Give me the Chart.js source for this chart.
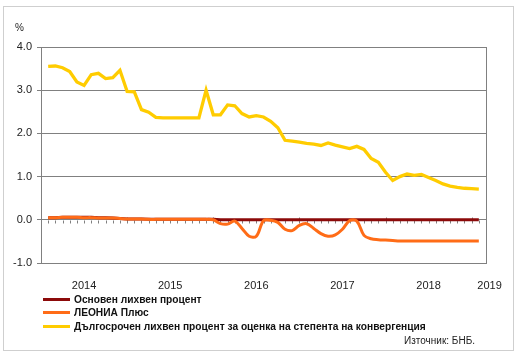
<!DOCTYPE html>
<html><head><meta charset="utf-8">
<script src="https://cdn.jsdelivr.net/npm/chart.js@4"></script>
<style>
body{margin:0;background:#fff;width:519px;height:363px;overflow:hidden;position:relative;font-family:"Liberation Sans",Arial,sans-serif;}
#frame{position:absolute;left:3px;top:6px;width:511px;height:345px;border:1px solid #cfcfcf;box-sizing:border-box;}
canvas{position:absolute;left:0;top:0;}
.pct{position:absolute;left:15px;top:22px;font-size:10px;color:#222}
.leg{position:absolute;left:43px;font-size:10.2px;line-height:12px;font-weight:bold;color:#111;white-space:nowrap}
.leg i{display:inline-block;width:27px;height:3px;vertical-align:middle;margin-right:4px;position:relative;top:-1px}
.src{position:absolute;right:44px;top:335px;font-size:10px;line-height:12px;color:#222}
</style></head>
<body>
<div id="frame"></div>
<canvas id="c" width="519" height="363"></canvas>
<div class="pct">%</div>
<div class="leg" style="top:294px"><i style="background:#8c0a0a"></i>Основен лихвен процент</div>
<div class="leg" style="top:307px"><i style="background:#ff6c17"></i>ЛЕОНИА Плюс</div>
<div class="leg" style="top:321px"><i style="background:#ffcc00"></i>Дългосрочен лихвен процент за оценка на степента на конвергенция</div>
<div class="src">Източник: БНБ.</div>
<script>
// months from Jan 2014 to Jan 2019 (61 points)
const months = [];
for (let yr = 2014; yr <= 2019; yr++) for (let m = 1; m <= 12; m++) if (months.length < 61) months.push(yr + '-' + String(m).padStart(2,'0'));

const baseRate = [0.05,0.05,0.06,0.06,0.06,0.06,0.06,0.05,0.05,0.04,0.03,
  0.02,0.02,0.02,0.01,0.01,0.01,0.01,0.01,0.01,0.01,0.01,0.01,
  0.01,0,0,0,0,0,0,0,0,0,0,0,0,0,0,0,0,0,0,0,0,0,0,0,0,0,
  0,0,0,0,0,0,0,0,0,0,0,0];
const leoniaPlus = [0.05,0.05,0.06,0.06,0.06,0.05,0.05,0.04,0.04,0.04,0.03,
  0.02,0.02,0.02,0.01,0.01,0.01,0.01,0.01,0.01,0.01,0.01,0.01,
  0.00,-0.09,-0.10,-0.03,-0.20,-0.38,-0.38,-0.02,-0.01,-0.06,-0.22,-0.25,-0.13,-0.09,-0.20,-0.32,-0.38,-0.35,-0.22,-0.02,-0.03,-0.36,-0.44,-0.46,-0.47,-0.48,
  -0.49,-0.49,-0.49,-0.49,-0.49,-0.49,-0.49,-0.49,-0.49,-0.49,-0.49,-0.49];
const longTermRate = [3.55,3.56,3.52,3.43,3.19,3.11,3.36,3.39,3.27,3.29,3.46,
  2.97,2.96,2.55,2.49,2.37,2.36,2.36,2.36,2.36,2.36,2.36,3.00,
  2.43,2.43,2.66,2.64,2.46,2.38,2.41,2.38,2.28,2.13,1.84,1.82,1.80,1.77,1.75,1.72,1.78,1.73,1.69,1.65,1.70,1.63,1.42,1.33,1.10,0.91,
  1.00,1.06,1.03,1.05,0.98,0.91,0.83,0.78,0.75,0.73,0.72,0.71];

const yearLabels = ['2014','2015','2016','2017','2018','2019'];
const yearLabelAt = [5, 17, 29, 41, 53, 61.5];
const yTicks = [-1, 0, 1, 2, 3, 4];

const pts = arr => arr.map((v, i) => ({x: i, y: v}));

const frame = {
  id: 'frame',
  beforeDatasetsDraw(chart) {
    const {ctx, chartArea: a, scales: {x, y}} = chart;
    ctx.save();
    ctx.strokeStyle = '#808080'; ctx.lineWidth = 1;
    ctx.strokeRect(Math.round(a.left)+0.5, Math.round(a.top)+0.5, Math.round(a.right-a.left), Math.round(a.bottom-a.top));
    const y0 = Math.round(y.getPixelForValue(0)) + 0.5;
    months.forEach((m, i) => {
      const px = Math.round(x.getPixelForValue(i)) + 0.5;
      const major = i % 12 === 11;
      ctx.beginPath();
      ctx.moveTo(px, major ? y0 - 3 : y0);
      ctx.lineTo(px, y0 + 3);
      ctx.stroke();
    });
    ctx.restore();
  }
};

new Chart(document.getElementById('c'), {
  type: 'line',
  data: {
    datasets: [
      {label: 'Основен лихвен процент', data: pts(baseRate), borderColor: '#8c0a0a', borderWidth: 3, pointRadius: 0, tension: 0, order: 2},
      {label: 'ЛЕОНИА Плюс', data: pts(leoniaPlus), borderColor: '#ff6c17', borderWidth: 3, pointRadius: 0, tension: 0.35, order: 1},
      {label: 'Дългосрочен лихвен процент за оценка на степента на конвергенция', data: pts(longTermRate), borderColor: '#ffcc00', borderWidth: 3.3, pointRadius: 0, tension: 0, order: 0}
    ]
  },
  options: {
    responsive: false,
    animation: false,
    layout: {padding: {left: 0, top: 47, right: 33, bottom: 70}},
    plugins: {legend: {display: false}, tooltip: {enabled: false}},
    scales: {
      x: {
        type: 'linear', min: -1, max: 61,
        afterFit(s) { s.height = 30; },
        afterBuildTicks(s) { s.ticks = yearLabelAt.map(v => ({value: v})); },
        grid: {display: false},
        border: {display: false},
        ticks: {autoSkip: false, maxRotation: 0, padding: 8, color: '#222', font: {family: '"Liberation Sans", Arial', size: 11},
          callback: (v, i) => yearLabels[i]}
      },
      y: {
        min: -1, max: 4,
        afterFit(s) { s.width = 41; },
        afterBuildTicks(s) { s.ticks = yTicks.map(v => ({value: v})); },
        grid: {color: '#808080', lineWidth: 1, tickLength: 4, drawTicks: true},
        border: {display: true, color: '#808080'},
        ticks: {padding: 5, color: '#222', font: {family: '"Liberation Sans", Arial', size: 11},
          callback: v => Number(v).toFixed(1)}
      }
    }
  },
  plugins: [frame]
});
</script>
</body></html>
